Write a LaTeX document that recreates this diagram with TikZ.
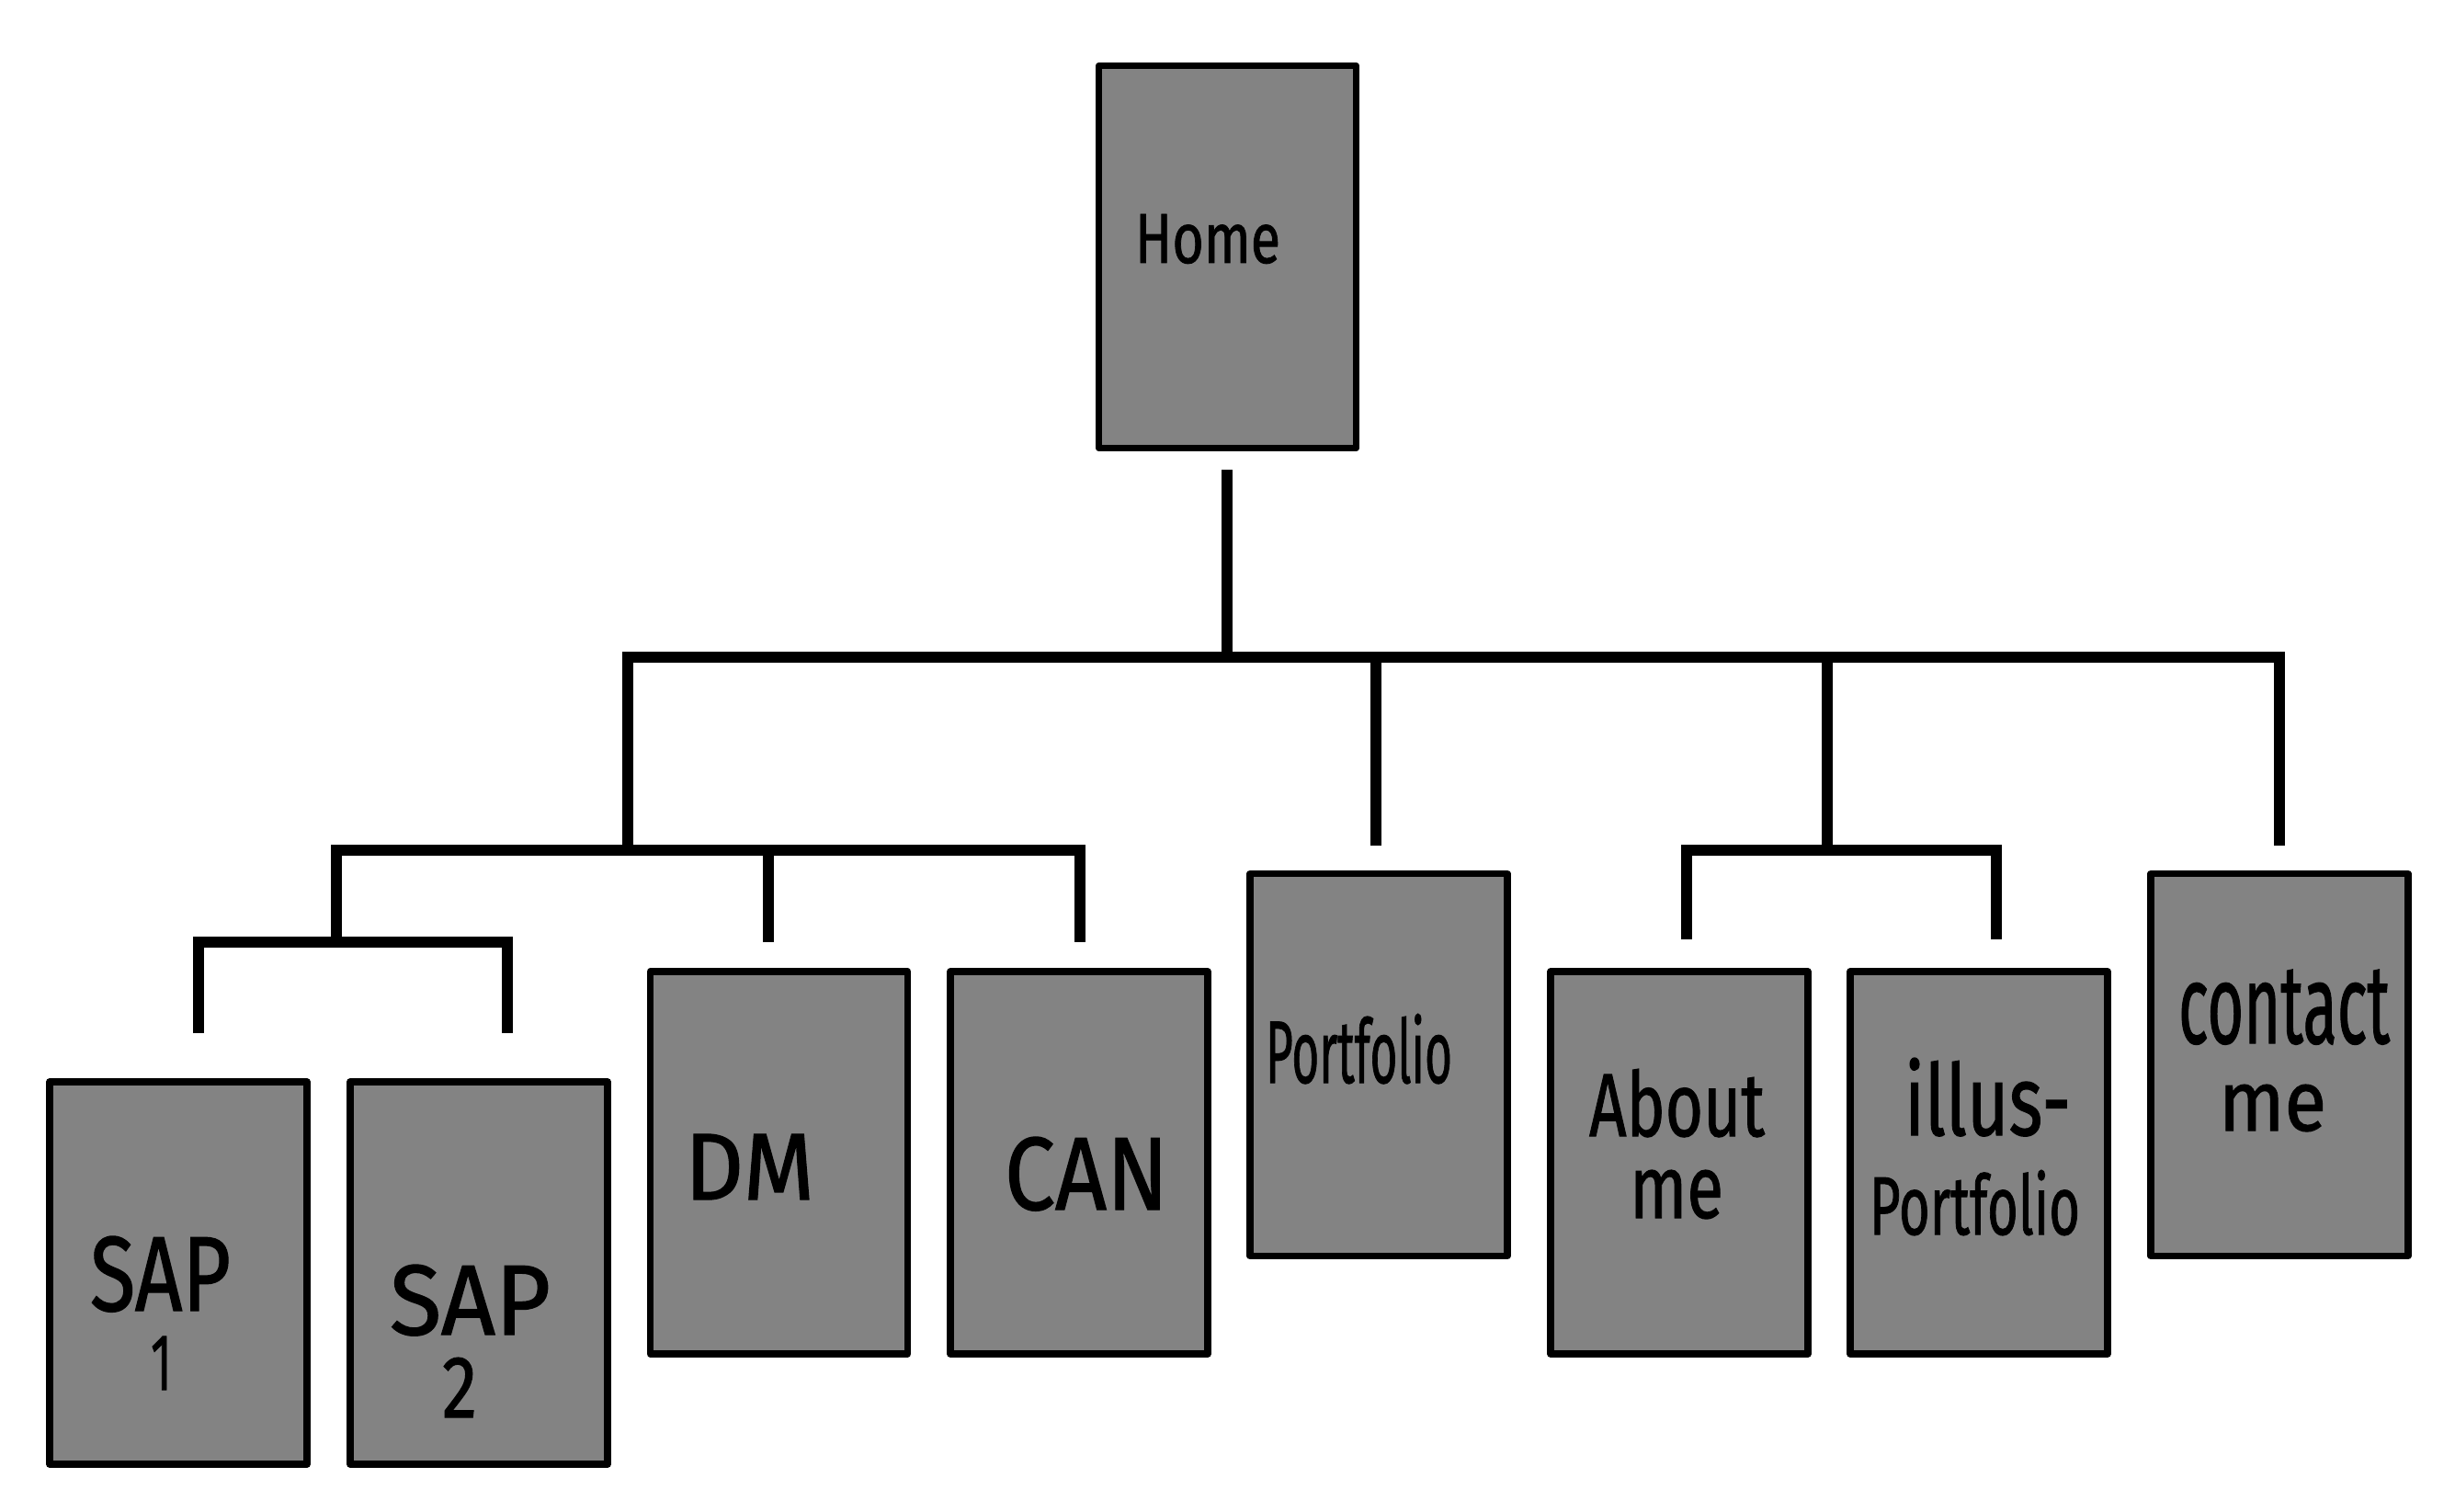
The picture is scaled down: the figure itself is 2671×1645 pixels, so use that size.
\documentclass[tikz,border=0pt]{standalone}
\usepackage{fontspec}
\setmainfont{Fira Sans}
\newfontfamily\hwfont{Fira Sans}[FakeBold=1.2]
\usetikzlibrary{calc}
\definecolor{boxgray}{RGB}{131,131,131}
\newcommand\hw[3]{\resizebox{#1pt}{#2pt}{\hwfont #3}}
\begin{document}
\begin{tikzpicture}[x=1pt,y=-1pt,
  pagebox/.style={draw=black, fill=boxgray, line width=7.5pt, minimum width=280pt,
    minimum height=416pt, inner sep=0pt, line join=round},
  lbl/.style={anchor=base west, inner sep=0pt, outer sep=0pt},
  link/.style={draw=black, line width=11.5pt, line join=miter, line cap=butt}]
\useasboundingbox (0,0) rectangle (2671,1645);
\fill[white] (0,0) rectangle (2671,1645);

% boxes
\node[pagebox] (home)    at (1335.5,279.5) {};
\node[pagebox] (sap1)    at (194,1385) {};
\node[pagebox] (sap2)    at (521,1385) {};
\node[pagebox] (dm)      at (847.5,1265) {};
\node[pagebox] (can)     at (1174,1265) {};
\node[pagebox] (port)    at (1500,1158.5) {};
\node[pagebox] (about)   at (1827,1265) {};
\node[pagebox] (illus)   at (2153,1265) {};
\node[pagebox] (contact) at (2480,1158.5) {};

% labels
\node[lbl] (homeT)  at (1235,286)  {\hw{158}{53}{Home}};
\node[lbl] (sap1a)  at (98,1426)   {\hw{153}{81}{SAP}};
\node[lbl] (sap1b)  at (164,1512)  {\hw{23}{58}{1}};
\node[lbl] (sap2a)  at (424,1452)  {\hw{175}{76}{SAP}};
\node[lbl] (sap2b)  at (481,1542)  {\hw{38}{65}{2}};
\node[lbl] (dmT)    at (745,1305)  {\hw{141}{71}{DM}};
\node[lbl] (canT)   at (1093,1316) {\hw{178}{79}{CAN}};
\node[lbl] (portT)  at (1377,1178) {\hw{203}{75}{Portfolio}};
\node[lbl] (aboutA) at (1729,1236) {\hw{191}{73}{About}};
\node[lbl] (aboutB) at (1773,1325) {\hw{102}{52}{me}};
\node[lbl] (illusA) at (2072,1235) {\hw{181}{84}{illus-}};
\node[lbl] (illusB) at (2034,1343) {\hw{229}{70}{Portfolio}};
\node[lbl] (contA)  at (2370,1135) {\hw{230}{80}{contact}};
\node[lbl] (contB)  at (2414,1230) {\hw{117}{50}{me}};

% connector points
\coordinate (homeEnd)  at (1335,511);
\coordinate (hub)      at (1335,715);
\coordinate (jLeft)    at (683,925);
\coordinate (portEnd)  at (1497,920);
\coordinate (jAbout)   at (1988,925);
\coordinate (contEnd)  at (2480,920);
\coordinate (sapJ)     at (366,1025);
\coordinate (dmEnd)    at (836,1025);
\coordinate (canEnd)   at (1175,1025);
\coordinate (sap1End)  at (216,1124);
\coordinate (sap2End)  at (552,1124);
\coordinate (aboutEnd) at (1835,1022);
\coordinate (illusEnd) at (2172,1022);

% connectors
\draw[link] (homeEnd) -- (hub);
\draw[link] (jLeft) |- (hub) -| (contEnd);
\draw[link] (portEnd) -- (portEnd |- hub);
\draw[link] (jAbout) -- (jAbout |- hub);
\draw[link] (aboutEnd) |- (jAbout) -| (illusEnd);
\draw[link] (sapJ) |- (jLeft) -| (canEnd);
\draw[link] (dmEnd) -- (dmEnd |- jLeft);
\draw[link] (sap1End) |- (sapJ) -| (sap2End);
\end{tikzpicture}
\end{document}
